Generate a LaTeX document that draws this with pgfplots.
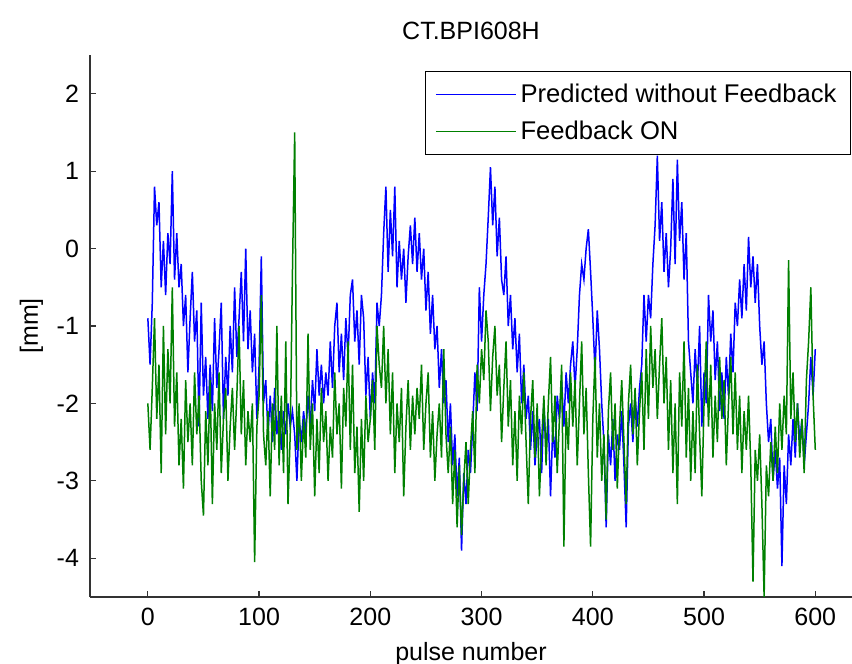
\documentclass[border=0pt]{standalone}
\usepackage{pgfplots}
\usepackage{pgfplotstable}
\pgfplotsset{compat=1.18}
\usepackage{fontspec}
\setmainfont{Liberation Sans}

\definecolor{mblue}{rgb}{0,0,1}
\definecolor{mgreen}{rgb}{0,0.5,0}

% pulse, predicted without feedback, feedback on
\pgfplotstableread{
x pred fb
0 -0.9 -2.0
2 -1.5 -2.6
4 -0.7 -1.8
6 0.8 -0.9
8 0.3 -2.2
10 0.6 -1.5
12 -0.5 -2.9
14 0.1 -1.0
16 -0.6 -2.4
18 0.2 -1.3
20 -0.2 -2.0
22 1.0 -0.5
24 -0.4 -2.3
26 0.2 -1.6
28 -0.5 -2.8
30 -0.2 -2.2
32 -1.0 -3.1
34 -0.6 -1.7
36 -1.6 -2.5
38 -0.9 -2.0
40 -0.3 -2.8
42 -1.2 -1.6
44 -0.8 -2.4
46 -2.3 -1.9
48 -0.7 -3.0
50 -1.9 -3.45
52 -1.4 -2.1
54 -2.2 -2.8
56 -1.5 -1.7
58 -2.1 -3.3
60 -0.9 -2.0
62 -1.8 -2.6
64 -1.3 -1.6
66 -0.7 -2.9
68 -2.2 -2.2
70 -1.4 -1.8
72 -1.9 -3.0
74 -1.0 -2.3
76 -1.6 -1.8
78 -0.5 -2.6
80 -1.4 -1.9
82 -0.9 -1.0
84 -0.3 -2.4
86 -1.2 -1.7
88 0.0 -2.8
90 -1.3 -2.1
92 -0.8 -2.5
94 -1.6 -2.0
96 -1.1 -4.05
98 -2.2 -2.3
100 -1.5 -1.9
102 -0.1 -0.6
104 -2.0 -2.4
106 -1.7 -2.8
108 -2.4 -2.1
110 -1.9 -3.2
112 -2.5 -2.0
114 -1.8 -2.6
116 -2.4 -1.0
118 -2.1 -2.8
120 -2.6 -1.9
122 -2.1 -2.9
124 -2.4 -1.2
126 -2.0 -3.3
128 -2.3 -2.4
130 -2.1 -0.3
132 -2.4 1.5
134 -3.0 -2.6
136 -2.2 -2.0
138 -2.5 -3.0
140 -2.1 -2.2
142 -2.4 -2.7
144 -1.9 -1.1
146 -2.3 -2.6
148 -1.7 -2.0
150 -2.1 -3.2
152 -1.3 -2.2
154 -1.9 -2.9
156 -1.5 -1.8
158 -2.0 -2.5
160 -1.6 -2.1
162 -1.9 -3.0
164 -1.2 -2.3
166 -1.8 -2.7
168 -1.0 -1.6
170 -0.7 -2.4
172 -1.6 -2.0
174 -1.1 -3.1
176 -1.7 -1.8
178 -0.9 -2.3
180 -1.4 -1.2
182 -0.6 -2.6
184 -0.4 -1.5
186 -1.2 -2.9
188 -0.8 -2.3
190 -1.5 -3.4
192 -0.6 -2.2
194 -0.9 -3.0
196 -1.9 -1.9
198 -1.4 -2.5
200 -2.2 -2.2
202 -1.6 -1.7
204 -2.0 -2.6
206 -0.7 -1.0
208 -1.0 -1.5
210 -0.6 -1.8
212 0.2 -1.0
214 0.8 -2.0
216 -0.3 -1.3
218 0.5 -2.4
220 -0.1 -1.6
222 0.8 -2.9
224 -0.5 -2.0
226 0.1 -2.5
228 -0.4 -1.8
230 0.0 -3.2
232 -0.7 -2.3
234 -0.1 -1.7
236 0.3 -2.6
238 -0.2 -1.9
240 0.4 -2.4
242 -0.3 -1.8
244 0.2 -2.2
246 -0.4 -1.5
248 0.0 -2.6
250 -0.8 -2.0
252 -0.3 -1.6
254 -1.1 -2.7
256 -0.6 -2.1
258 -1.3 -3.0
260 -1.0 -2.4
262 -1.8 -2.0
264 -1.3 -2.7
266 -2.0 -1.3
268 -1.7 -2.4
270 -2.5 -2.9
272 -2.0 -2.3
274 -2.8 -3.3
276 -2.4 -2.6
278 -3.2 -3.6
280 -2.7 -2.8
282 -3.9 -3.7
284 -2.9 -3.0
286 -3.3 -2.5
288 -2.6 -3.3
290 -2.9 -2.6
292 -2.3 -2.1
294 -1.6 -2.9
296 -2.1 -1.5
298 -0.5 -2.0
300 -1.2 -1.3
302 -0.6 -1.7
304 -0.2 -0.8
306 0.4 -1.2
308 1.05 -2.1
310 0.3 -1.4
312 0.8 -1.0
314 -0.1 -1.9
316 0.4 -1.5
318 -0.4 -2.5
320 -0.6 -1.8
322 -0.1 -1.2
324 -1.0 -2.3
326 -0.6 -1.7
328 -1.3 -2.8
330 -0.9 -2.1
332 -1.6 -3.0
334 -1.1 -1.9
336 -2.0 -2.4
338 -1.5 -1.6
340 -2.2 -2.5
342 -1.9 -3.3
344 -2.6 -2.2
346 -2.1 -1.7
348 -2.8 -2.7
350 -2.4 -2.0
352 -2.2 -3.2
354 -2.9 -2.5
356 -2.0 -1.9
358 -2.6 -2.8
360 -2.2 -2.0
362 -3.2 -1.4
364 -2.3 -2.5
366 -2.7 -1.9
368 -1.9 -2.9
370 -2.2 -2.2
372 -1.7 -1.5
374 -2.3 -3.85
376 -1.6 -2.1
378 -2.0 -2.6
380 -1.5 -1.6
382 -1.2 -2.3
384 -1.8 -1.7
386 -1.3 -2.8
388 -0.6 -2.0
390 -0.2 -1.2
392 -0.4 -2.4
394 0.0 -1.8
396 0.25 -2.9
398 -0.3 -3.85
400 -0.9 -2.2
402 -1.6 -1.4
404 -0.8 -2.7
406 -1.3 -2.0
408 -2.0 -3.0
410 -2.5 -2.4
412 -3.6 -3.5
414 -2.4 -2.1
416 -2.8 -1.6
418 -2.2 -2.6
420 -3.0 -2.0
422 -2.4 -3.1
424 -2.6 -2.3
426 -2.1 -1.7
428 -2.8 -2.5
430 -3.6 -3.3
432 -2.3 -2.0
434 -2.0 -1.5
436 -2.5 -2.4
438 -1.9 -1.8
440 -2.3 -2.8
442 -1.8 -2.1
444 -1.5 -1.6
446 -0.6 -2.6
448 -1.2 -1.3
450 -0.6 -2.2
452 -0.9 -1.0
454 -0.2 -1.8
456 0.3 -1.3
458 1.2 -2.2
460 0.1 -1.5
462 0.6 -0.9
464 -0.3 -2.0
466 0.2 -1.4
468 -0.5 -2.6
470 0.0 -1.7
472 0.9 -2.9
474 -0.2 -2.0
476 1.15 -3.3
478 0.1 -1.6
480 0.6 -2.3
482 -0.4 -1.2
484 0.2 -2.7
486 -1.2 -1.8
488 -1.6 -3.0
490 -2.0 -2.1
492 -1.3 -2.9
494 -1.8 -1.5
496 -1.0 -2.4
498 -2.3 -3.2
500 -1.6 -2.0
502 -2.0 -1.2
504 -0.6 -2.3
506 -1.2 -1.5
508 -0.8 -2.7
510 -1.7 -1.9
512 -1.2 -2.5
514 -2.1 -1.4
516 -1.6 -2.2
518 -2.2 -1.7
520 -1.4 -2.8
522 -1.9 -2.0
524 -1.1 -1.4
526 -1.6 -2.4
528 -0.7 -1.6
530 -1.0 -2.6
532 -0.4 -1.9
534 -0.9 -2.9
536 -0.2 -2.1
538 -0.8 -2.6
540 0.15 -1.9
542 -0.5 -2.8
544 -0.1 -4.3
546 -0.7 -2.6
548 -0.2 -3.0
550 -1.0 -2.4
552 -1.5 -3.3
554 -1.2 -4.5
556 -2.0 -2.8
558 -2.5 -3.2
560 -2.2 -2.5
562 -3.0 -3.0
564 -2.6 -2.3
566 -3.1 -2.9
568 -2.7 -2.0
570 -4.1 -2.6
572 -2.8 -1.9
574 -3.3 -2.4
576 -2.4 -0.15
578 -2.8 -2.2
580 -2.2 -1.6
582 -2.7 -2.5
584 -2.0 -2.0
586 -2.5 -2.7
588 -2.2 -2.2
590 -2.8 -2.9
592 -2.4 -1.7
594 -2.0 -1.2
596 -1.4 -0.5
598 -1.9 -1.9
600 -1.3 -2.6
}\bpm

\begin{document}
\begin{tikzpicture}[font=\fontsize{12.5bp}{15bp}\selectfont]
\begin{axis}[
  scale only axis,
  width=381bp, height=271bp,
  xmin=-52, xmax=633,
  ymin=-4.5, ymax=2.5,
  xtick={0,100,...,600},
  ytick={-4,-3,...,2},
  axis x line=bottom, axis y line=left,
  axis line style={-, black!80, line width=0.6bp},
  tick align=inside,
  major tick length=3bp,
  tick style={black!80, line width=0.6bp},
  /pgf/number format/assume math mode=true,
  xticklabel style={yshift=-2bp},
  yticklabel style={xshift=-2bp},
  title={CT.BPI608H},
  title style={yshift=-2bp},
  xlabel={pulse number},
  ylabel={[mm]},
  xlabel style={yshift=-1.5bp},
  legend style={
    at={(rel axis cs:1,1)}, anchor=north east,
    xshift=-0.5bp, yshift=-8bp,
    draw=black, line width=0.6bp,
    inner xsep=5bp, inner ysep=4bp,
    row sep=4bp,
    cells={anchor=west},
    font=\fontsize{12.8bp}{15bp}\selectfont,
  },
  legend image code/.code={\draw[#1, line width=0.6bp] (0bp,0bp) -- (40bp,0bp);},
]
\addplot[mblue, line width=0.75bp] table[x=x, y=pred] {\bpm};
\addlegendentry{Predicted without Feedback}
\addplot[mgreen, line width=0.75bp] table[x=x, y=fb] {\bpm};
\addlegendentry{Feedback ON}
\end{axis}
\pgfresetboundingbox
\path[use as bounding box] ([xshift=-45bp,yshift=-33.5bp]current axis.south west) rectangle ([yshift=27.5bp]current axis.north east);
\end{tikzpicture}
\end{document}
